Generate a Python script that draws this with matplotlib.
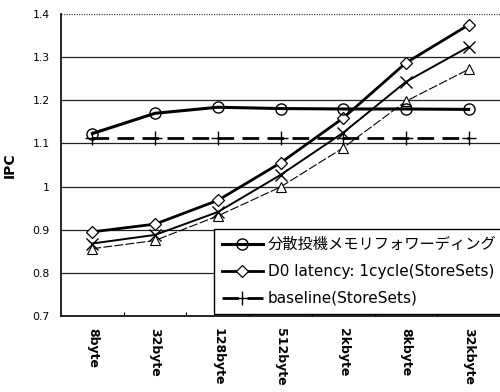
import matplotlib
matplotlib.use("Agg")
import matplotlib.pyplot as plt
import numpy as np

categories = ["8byte", "32byte", "128byte", "512byte", "2kbyte", "8kbyte", "32kbyte"]
dist_spec_fwd = [1.123, 1.170, 1.184, 1.181, 1.180, 1.180, 1.179]
d0_latency_1cycle = [0.895, 0.913, 0.968, 1.055, 1.159, 1.287, 1.375]
series_x = [0.868, 0.888, 0.941, 1.027, 1.125, 1.243, 1.324]
series_tri = [0.856, 0.875, 0.932, 0.999, 1.090, 1.198, 1.272]
baseline = [1.113, 1.113, 1.113, 1.113, 1.113, 1.113, 1.113]

yticks = [0.7, 0.8, 0.9, 1.0, 1.1, 1.2, 1.3, 1.4]
ytick_labels = ["0.7", "0.8", "0.9", "1", "1.1", "1.2", "1.3", "1.4"]

legend_labels = ["分散投機メモリフォワーディング", "D0 latency: 1cycle(StoreSets)", "baseline(StoreSets)"]

fig = plt.figure(figsize=(5.0, 3.92), dpi=100)
ax = fig.add_axes([0.122, 0.194, 0.878, 0.770])

x = np.arange(len(categories))

# grid lines
for v in yticks[1:-1]:
    ax.axhline(v, color="#222222", lw=0.9, zorder=1)
ax.axhline(1.4, color="#444444", lw=0.9, ls=(0, (1, 1)), zorder=1)

ax.plot(x, series_tri, color="black", lw=0.8, ls=(0, (8, 2)), marker="^", ms=7,
        mfc="white", mec="black", mew=0.8, zorder=3, label="_nolegend_")
ax.plot(x, series_x, color="black", lw=1.4, marker="x", ms=8, mew=1.0,
        zorder=3, label="_nolegend_")
ax.plot(x, baseline, color="black", lw=2.0, ls=(0, (6, 3)), marker="+", ms=10,
        mew=1.0, zorder=3, label=legend_labels[2])
ax.plot(x, d0_latency_1cycle, color="black", lw=2.0, marker="D", ms=6,
        mfc="white", mec="black", mew=0.9, zorder=4, label=legend_labels[1])
ax.plot(x, dist_spec_fwd, color="black", lw=2.2, marker="o", ms=8,
        mfc="none", mec="black", mew=1.0, zorder=4, label=legend_labels[0])

ax.set_xlim(-0.5, 6.5)
ax.set_ylim(0.7, 1.4)
ax.set_yticks(yticks)
ax.set_yticklabels(ytick_labels, fontsize=7.8, family=["DejaVu Sans"])
ax.tick_params(axis="y", length=0, pad=8)

ax.set_xticks(x)
ax.set_xticklabels(categories, rotation=-90, fontsize=9, fontweight="bold",
                   family=["DejaVu Sans"])
ax.tick_params(axis="x", which="major", length=0, pad=9)
ax.set_xticks(np.arange(0.5, 6.5, 1.0), minor=True)
ax.tick_params(axis="x", which="minor", direction="in", length=3, width=0.8)

for s in ["top", "right"]:
    ax.spines[s].set_visible(False)
ax.spines["left"].set_linewidth(1.2)
ax.spines["bottom"].set_linewidth(1.2)

ax.set_ylabel("IPC", fontsize=10, fontweight="bold", family=["DejaVu Sans"])
ax.yaxis.set_label_coords(-0.1, 0.5)

handles, labels = ax.get_legend_handles_labels()
order = [labels.index(l) for l in legend_labels]
leg = ax.legend([handles[i] for i in order], [labels[i] for i in order],
                loc="lower left", bbox_to_anchor=(0.349, 0.008),
                prop={"family": ["DejaVu Sans", "Noto Sans CJK JP"], "size": 11},
                frameon=True, fancybox=False, edgecolor="black", framealpha=1,
                handlelength=2.7, handletextpad=0.3, labelspacing=0.78,
                borderpad=0.5, borderaxespad=0)
leg.get_frame().set_linewidth(1.0)
leg.set_zorder(10)

fig.savefig("out.png", dpi=100)
